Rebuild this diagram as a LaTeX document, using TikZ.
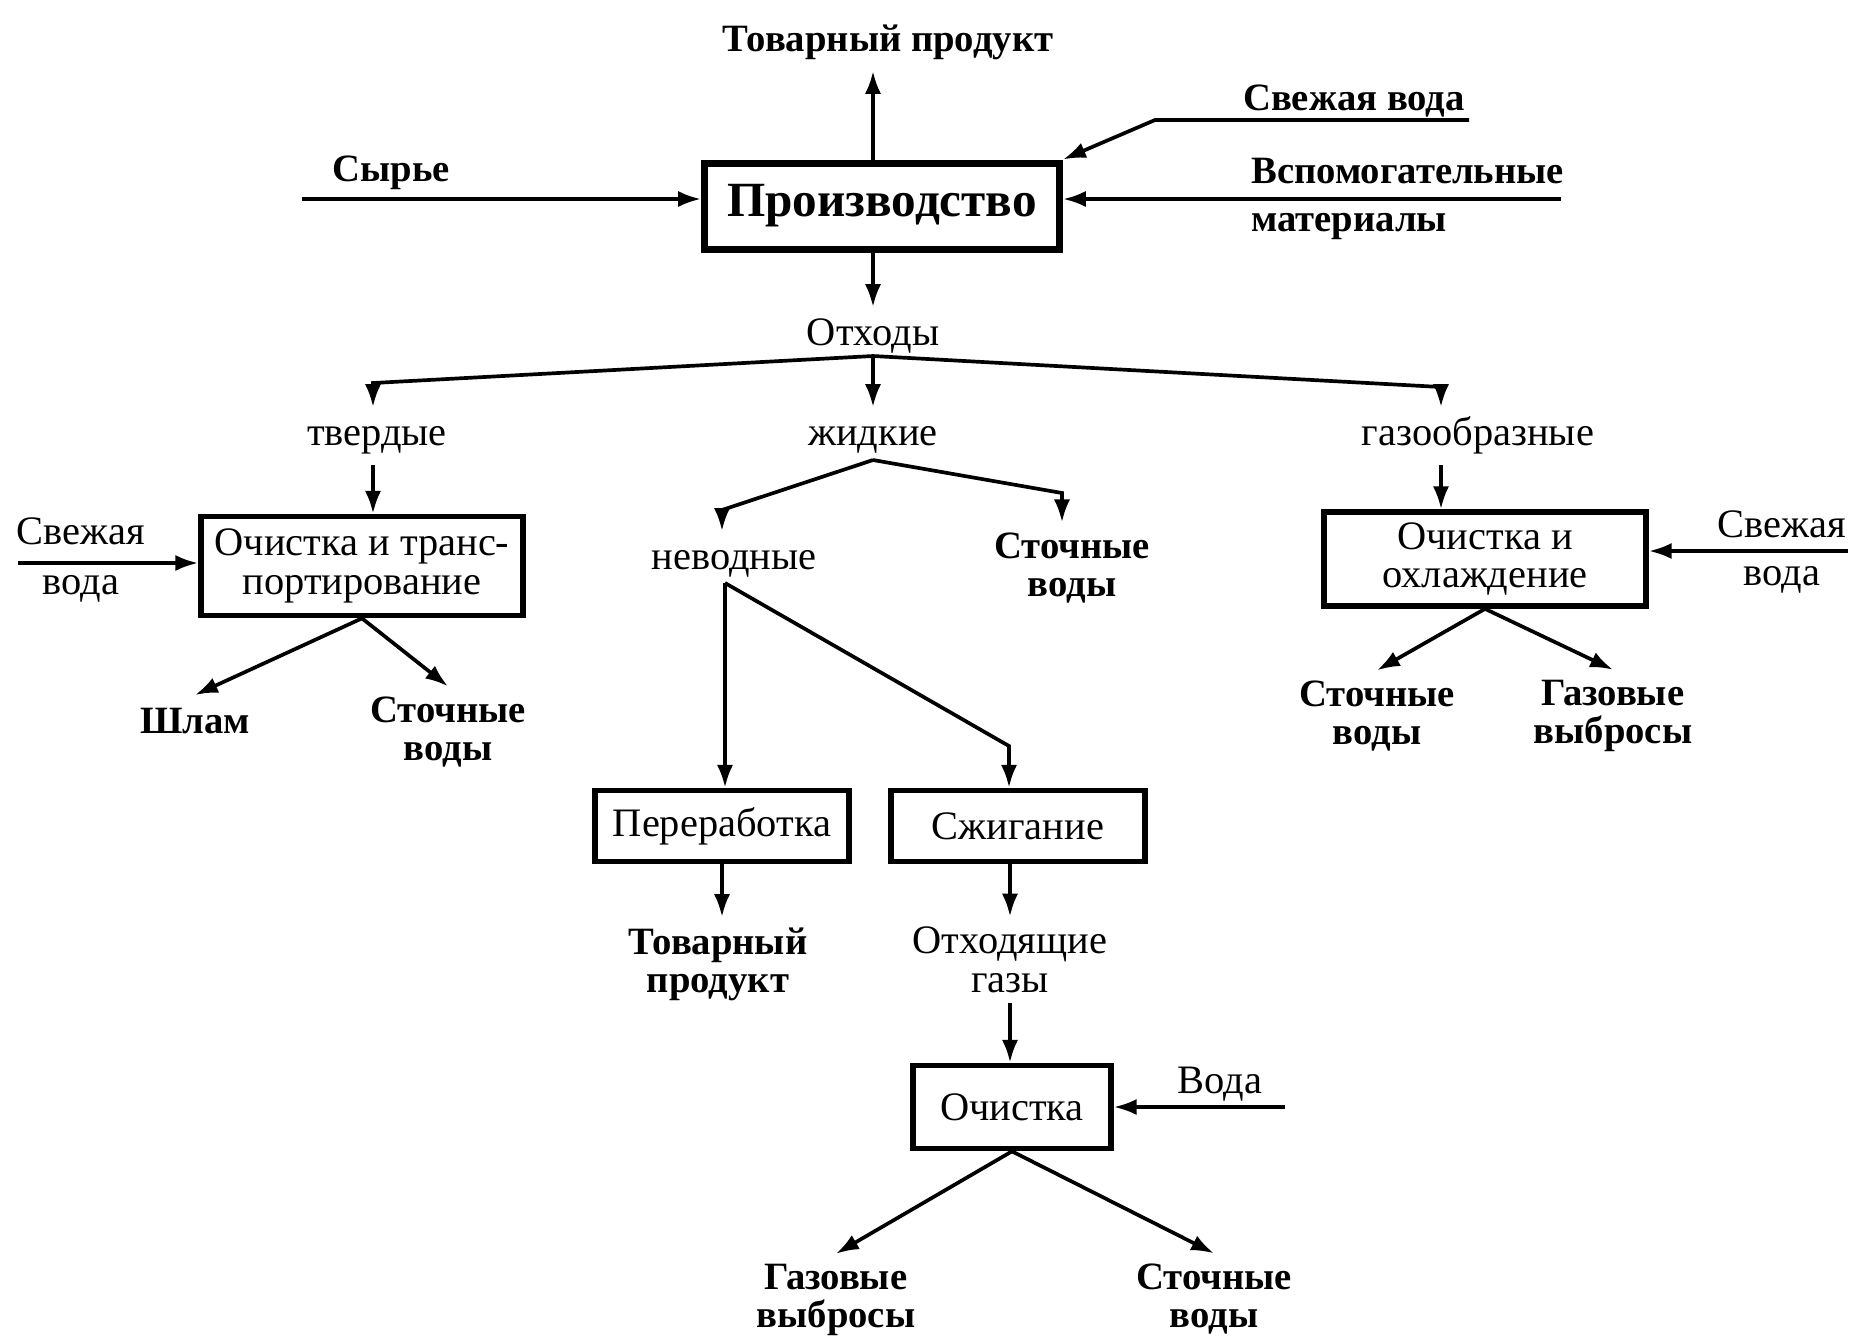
\documentclass[tikz,border=0pt]{standalone}
\usepackage{fontspec}
\setmainfont{Liberation Serif}
\usetikzlibrary{positioning, arrows.meta, calc}

\begin{document}
\begin{tikzpicture}[
    x=0.1mm, y=-0.1mm,
    node distance=0.4cm,
    stage/.style={rectangle, draw=black, line width=1.6pt, inner sep=2pt,
                  align=center, font=\fontsize{11.5}{11}\selectfont},
    mainstage/.style={stage, line width=2pt, font=\fontsize{14}{16}\selectfont\bfseries},
    tag/.style={inner sep=1pt, outer sep=2pt, text height=8pt, text depth=2.5pt,
                font=\fontsize{11.5}{11}\selectfont},
    btag/.style={tag, font=\fontsize{11}{11}\selectfont\bfseries},
    note/.style={align=center, inner sep=1pt, outer sep=2pt,
                 font=\fontsize{11.5}{11}\selectfont},
    bnote/.style={note, font=\fontsize{11}{10.8}\selectfont\bfseries},
    arrow/.style={-{Latex[length=6.5pt, width=4.6pt]}, line width=1.05pt}
  ]
    \useasboundingbox (0,0) rectangle (1857,1337);

    % production and its inputs
    \node[mainstage, minimum width=3.55cm, minimum height=0.86cm] (prod) at (882,206) {Производство};
    \node[btag] (topprod) at (888,42) {Товарный продукт};
    \node[btag] (raw) at (391,172) {Сырье};
    \node[btag] (fw1) at (1354,101) {Свежая вода};
    \node[align=left, anchor=west, inner sep=1pt,
          font=\fontsize{11}{13.7}\selectfont\bfseries] (aux) at (1247,199) {Вспомогательные\\материалы};
    \node[tag] (waste) at (873,336) {Отходы};
    \coordinate (rawin) at (302,199);
    \coordinate (fw1a) at (1469,120);
    \coordinate (fw1b) at (1155,120);
    \coordinate (auxin) at (1561,199);
    \coordinate (split) at (873,356);

    % kinds of waste
    \node[tag] (solid) at (377,436) {твердые};
    \node[tag] (liquid) at (873,436) {жидкие};
    \node[tag] (gas) at (1478,436) {газообразные};
    \coordinate (sc) at (373,383);
    \coordinate (gc) at (1441,387);

    % solid branch
    \node[stage, minimum width=3.22cm, minimum height=0.99cm] (clean1) at (362,566) {Очистка и транс-\\портирование};
    \node[note, font=\fontsize{11.5}{14.2}\selectfont] (fw2) at (81,560) {Свежая\\вода};
    \node[btag] (sludge) at (195,724) {Шлам};
    \node[bnote] (ww1) at (448,732) {Сточные\\воды};
    \coordinate (fw2in) at (18,563);

    % liquid branch
    \coordinate (lsplit) at (873,460);
    \coordinate (lc) at (722,510);
    \coordinate (rc) at (1062,493);
    \node[tag] (nonaq) at (734,560) {неводные};
    \node[bnote] (ww2) at (1072,568) {Сточные\\воды};
    \coordinate (nsplit) at (725,583);
    \coordinate (bc) at (1009,746);
    \node[stage, minimum width=2.54cm, minimum height=0.71cm] (recyc) at (722,826) {Переработка};
    \node[stage, minimum width=2.54cm, minimum height=0.71cm] (burn) at (1018,826) {Сжигание};
    \node[bnote] (prod2) at (718,964) {Товарный\\продукт};
    \node[note] (exhaust) at (1010,960) {Отходящие\\газы};
    \node[stage, minimum width=1.98cm, minimum height=0.83cm] (purify) at (1012,1107) {Очистка};
    \node[tag] (water) at (1220,1084) {Вода};
    \coordinate (win) at (1285,1107);
    \node[bnote] (gas2) at (836,1300) {Газовые\\выбросы};
    \node[bnote] (ww3) at (1214,1299) {Сточные\\воды};

    % gas branch
    \node[stage, minimum width=3.22cm, minimum height=0.94cm] (cool) at (1485,559) {Очистка и\\охлаждение};
    \node[note, font=\fontsize{11.5}{13.5}\selectfont] (fw3) at (1782,552) {Свежая\\вода};
    \coordinate (fw3in) at (1848,551);
    \node[bnote] (ww4) at (1377,716) {Сточные\\воды};
    \node[bnote] (gas3) at (1613,716) {Газовые\\выбросы};

    % connectors
    \draw[arrow] (prod.north -| waste) -- (waste |- topprod.south);
    \draw[arrow] (rawin) -- (rawin -| prod.west);
    \draw[arrow] (fw1a) -- (fw1b) -- (prod.north east);
    \draw[arrow] (auxin) -- (auxin -| prod.east);
    \draw[arrow] (prod.south -| waste) -- (waste.north);

    \draw[arrow] (split) -- (sc) -- (sc |- solid.north);
    \draw[arrow] (split) -- (liquid.north);
    \draw[arrow] (split) -- (gc) -- (gc |- gas.north);

    \draw[arrow] (sc |- solid.south) -- (sc |- clean1.north);
    \draw[arrow] (fw2in) -- (fw2in -| clean1.west);
    \draw[arrow] (clean1.south) -- (sludge.north);
    \draw[arrow] (clean1.south) -- (ww1.north);

    \draw[arrow] (lsplit) -- (lc) -- (lc |- nonaq.north);
    \draw[arrow] (lsplit) -- (rc) -- (rc |- ww2.north);
    \draw[arrow] (nsplit) -- (nsplit |- recyc.north);
    \draw[arrow] (nsplit) -- (bc) -- (bc |- burn.north);
    \draw[arrow] (recyc.south) -- (recyc.south |- prod2.north);
    \draw[arrow] (burn.south -| exhaust) -- (exhaust.north);
    \draw[arrow] (exhaust.south) -- (exhaust.south |- purify.north);
    \draw[arrow] (win) -- (win -| purify.east);
    \draw[arrow] (purify.south) -- (gas2.north);
    \draw[arrow] (purify.south) -- (ww3.north);

    \draw[arrow] (gc |- gas.south) -- (gc |- cool.north);
    \draw[arrow] (fw3in) -- (fw3in -| cool.east);
    \draw[arrow] (cool.south) -- (ww4.north);
    \draw[arrow] (cool.south) -- (gas3.north);
  \end{tikzpicture}
\end{document}
